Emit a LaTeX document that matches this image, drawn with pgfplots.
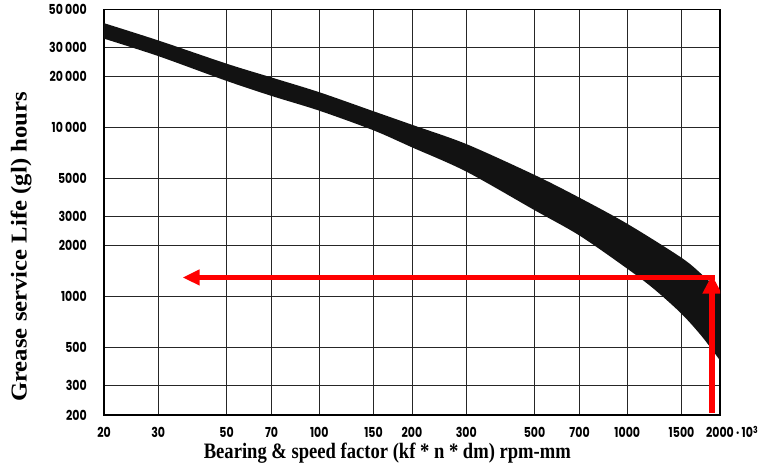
\documentclass[border=0pt]{standalone}
\usepackage{fontspec}
\usepackage{graphicx}
\usepackage{pgfplots}
\pgfplotsset{compat=1.18}
\usepgfplotslibrary{fillbetween}
\usetikzlibrary{arrows.meta}
\newfontfamily\tickfont{Poppins}[FakeStretch=0.8]
\newfontfamily\labfont{Liberation Serif}

\begin{document}
\begin{tikzpicture}
\begin{axis}[
  at={(0,0)}, anchor=south west,
  xmode=log, ymode=log,
  scale only axis, width=462pt, height=304.1pt,
  xmin=20, xmax=2000, ymin=200, ymax=50000,
  xtick={20,30,50,70,100,150,200,300,500,700,1000,1500,2000},
  xticklabels={20,30,50,70,100,150,200,300,500,700,1000,1500,{2000\rlap{\,·\,10\textsuperscript{3}}}},
  ytick={200,300,500,1000,2000,3000,5000,10000,20000,30000,50000},
  yticklabels={200,300,500,1000,2000,3000,5000,{10\,000},{20\,000},{30\,000},{50\,000}},
  minor xtick={}, minor ytick={},
  major tick length=0pt,
  grid=major,
  major grid style={black!85, line width=0.6pt},
  axis line style={black, line width=1pt},
  ticklabel style={font=\tickfont\bfseries\fontsize{10.3}{11}\selectfont},
  xticklabel style={anchor=base, inner sep=0pt, yshift=-17.3pt},
  yticklabel style={anchor=east, inner sep=0pt, xshift=-12.75pt},
  xlabel={\scalebox{0.845}[1]{\labfont\bfseries\fontsize{16.5}{19}\selectfont Bearing \& speed factor (kf * n * dm) rpm-mm}},
  xlabel style={at={(axis description cs:0.46,-0.108)}, anchor=base, inner sep=0pt, text height=11pt},
  ylabel={\scalebox{1.09}[1]{\labfont\bfseries\fontsize{17}{20}\selectfont Grease service Life (gl) hours}},
  ylabel style={at={(axis description cs:-0.1258,0.4143)}, anchor=base},
]
\addplot[name path=U, draw=none, smooth] coordinates {
 (20,41500) (30,32800) (50,23900) (70,19800) (100,16200) (150,12500)
 (200,10400) (300,8000) (500,5250) (700,3850) (1000,2700)
 (1500,1700) (1750,1350) (2000,1075)};
\addplot[name path=L, draw=none, smooth] coordinates {
 (20,33600) (30,26500) (50,18900) (70,15400) (100,12600) (150,9640)
 (200,7650) (300,5500) (500,3250) (700,2300) (1000,1465) (1218,1115)
 (1500,793) (1750,580) (2000,420)};
\addplot[fill=black!93, draw=none] fill between[of=U and L];
\addplot[red, line width=4.1pt, -{Triangle[length=12.75pt,width=11.25pt]}]
  coordinates {(1922,1300) (36,1300)};
\addplot[red, line width=4.1pt, -{Triangle[length=14.25pt,width=13.5pt]}]
  coordinates {(1884,205) (1884,1350)};
\end{axis}
\pgfresetboundingbox
\useasboundingbox (-78pt,-42pt) rectangle (490.5pt,311.2pt);
\end{tikzpicture}
\end{document}
